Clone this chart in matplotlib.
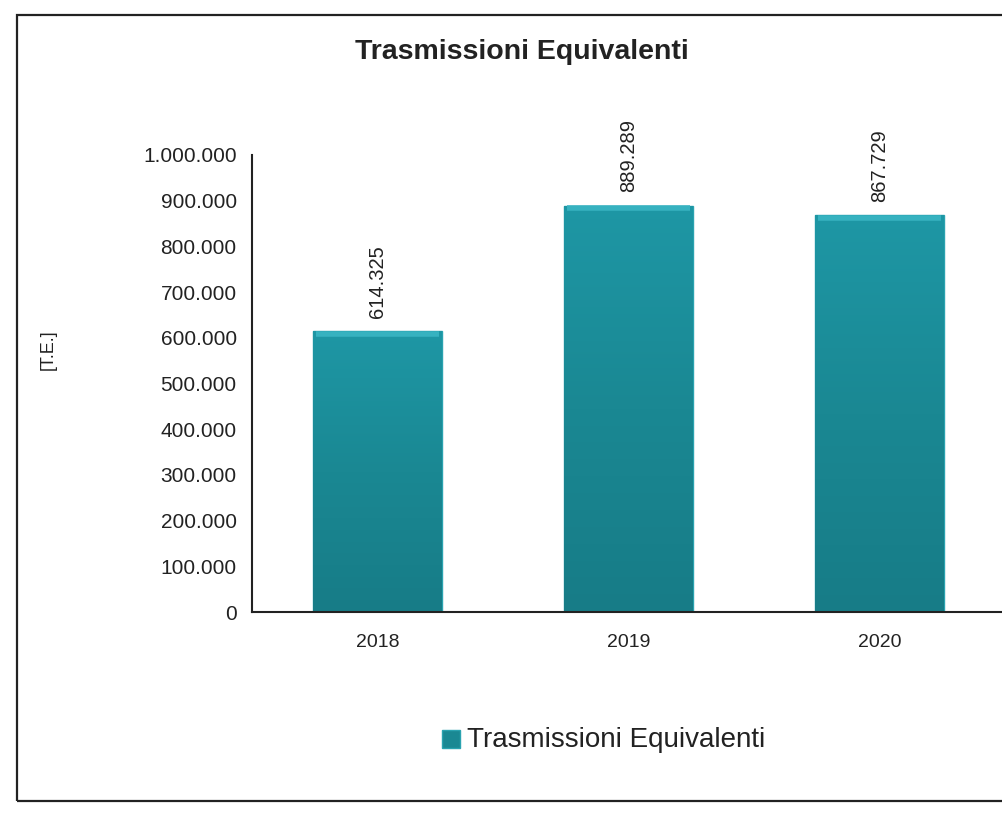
import numpy as np
import matplotlib.pyplot as plt
from matplotlib.patches import Rectangle
from matplotlib.colors import LinearSegmentedColormap

plt.rcParams['font.family'] = ['Liberation Sans', 'DejaVu Sans']

anni = ['2018', '2019', '2020']
trasmissioni = [614325, 889289, 867729]
yticks = list(range(0, 1000001, 100000))


def fmt_it(v):
    return f"{v:,}".replace(",", ".")


fig = plt.figure(figsize=(10.03, 8.16), dpi=100)

# cornice del grafico
fig.patches.append(Rectangle((17 / 1003, 15 / 816), 1.1, 786 / 816,
                             transform=fig.transFigure, fill=False,
                             edgecolor='#222222', linewidth=1.6))

ax = fig.add_axes([252 / 1003, 204 / 816, 753 / 1003, 457 / 816])
x = np.arange(len(anni))
bars = ax.bar(x, trasmissioni, width=0.51, color='#1a8893',
              edgecolor='#2aa3b0', linewidth=1.0, zorder=2)

# sfumatura verticale leggera sulle barre
cmap = LinearSegmentedColormap.from_list('teal', ['#177c87', '#1a8893', '#1e97a5'])
grad = np.linspace(0, 1, 256).reshape(-1, 1)
for b in bars:
    x0, w, h = b.get_x(), b.get_width(), b.get_height()
    im = ax.imshow(grad, cmap=cmap, aspect='auto', origin='lower',
                   extent=(x0, x0 + w, 0, h), zorder=2.5)
    im.set_clip_path(b)
    ax.plot([x0 + 0.01, x0 + w - 0.01], [h - 5000, h - 5000],
            color='#36b2c0', linewidth=4, zorder=3, solid_capstyle='butt')

for xi, v in zip(x, trasmissioni):
    ax.text(xi, v + 30000, fmt_it(v), rotation=90, ha='center', va='bottom',
            fontsize=14.5, color='#222222')

ax.set_xlim(-0.5, 2.5)
ax.set_ylim(0, 1000000)
ax.set_yticks(yticks)
ax.set_yticklabels([fmt_it(t) for t in yticks])
ax.set_xticks(x)
ax.set_xticklabels(anni)
ax.tick_params(axis='both', length=0, labelsize=14, colors='#222222')
ax.tick_params(axis='y', pad=11, labelsize=15)
ax.tick_params(axis='x', pad=16)
for s in ['top', 'right']:
    ax.spines[s].set_visible(False)
for s in ['left', 'bottom']:
    ax.spines[s].set_linewidth(1.5)
    ax.spines[s].set_color('#222222')

fig.text(522 / 1003, 1 - 52 / 816, 'Trasmissioni Equivalenti', ha='center',
         va='center', fontsize=20.5, fontweight='bold', color='#222222')
fig.text(48 / 1003, 1 - 350 / 816, '[T.E.]', rotation=90, ha='center',
         va='center', fontsize=13, color='#222222')

# legenda
fig.patches.append(Rectangle((442 / 1003, 1 - 748 / 816), 18 / 1003, 18 / 816,
                             transform=fig.transFigure, facecolor='#1a8893',
                             edgecolor='#2aa3b0', linewidth=1))
fig.text(467 / 1003, 1 - 740 / 816, 'Trasmissioni Equivalenti', ha='left',
         va='center', fontsize=20, color='#222222')

fig.savefig('out.png', dpi=100, facecolor='white')
